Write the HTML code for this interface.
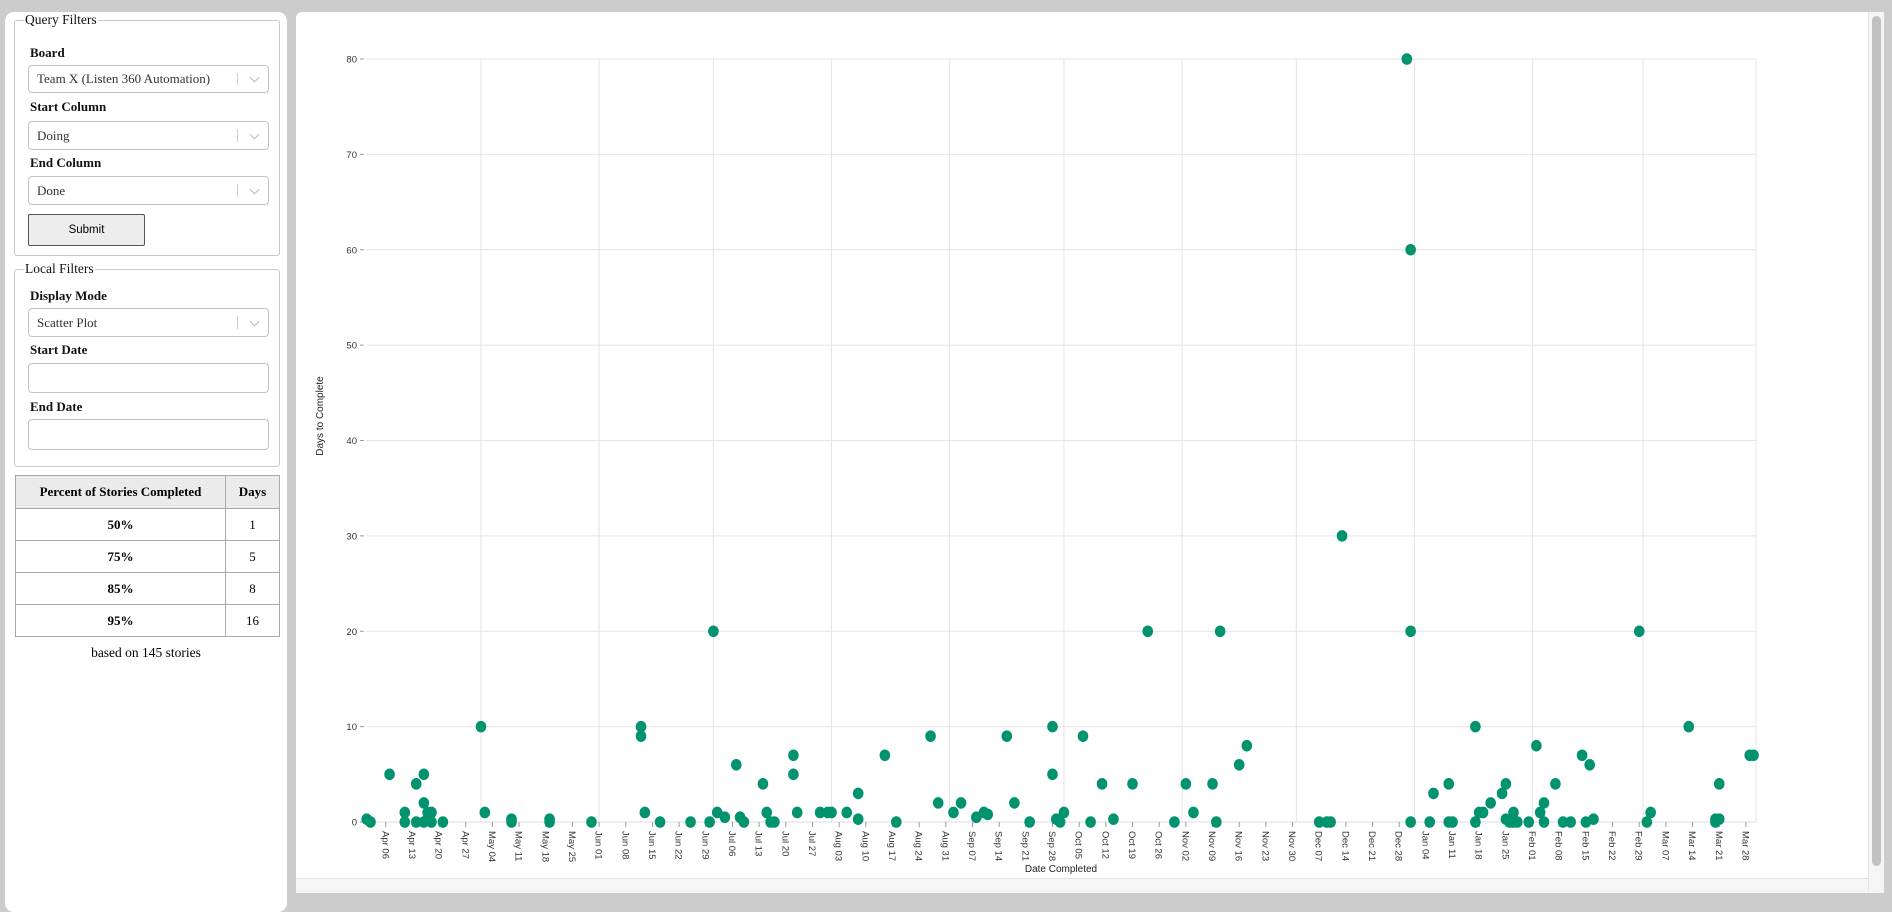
<!DOCTYPE html>
<html><head><meta charset="utf-8"><style>
*{box-sizing:border-box}
body{margin:0;width:1892px;height:893px;background:#cccccc;overflow:hidden;position:relative;font-family:"Liberation Serif",serif}
.abs{position:absolute}
#left{left:5px;top:12px;width:282px;height:900px;background:#fff;border-radius:9px}
fieldset{position:absolute;border:1px solid #c8c8c8;border-radius:3px;margin:0;padding:0}
legend{font-size:13.5px;padding:0 1px;margin-left:9px;color:#111}
.lbl{position:absolute;font-weight:bold;font-size:13px;color:#111;line-height:18px}
.sel{position:absolute;border:1px solid #c4c4c4;border-radius:4px;background:#fff;font-size:13px;color:#333;padding-left:8px;display:flex;align-items:center}
.sel .sep{position:absolute;right:30px;top:7px;bottom:7px;width:1px;background:#ccc}
.sel .arr{position:absolute;right:10px;top:50%;width:7px;height:7px;border-right:1px solid #bbb;border-bottom:1px solid #bbb;transform:translateY(-70%) rotate(45deg)}
.inp{position:absolute;border:1px solid #c4c4c4;border-radius:4px;background:#fff}
#submit{position:absolute;border:1px solid #555;border-radius:2px;background:#ededed;font-family:"Liberation Sans",sans-serif;font-size:11.5px;display:flex;align-items:center;justify-content:center}
table{position:absolute;border-collapse:collapse;font-size:13px}
td,th{border:1px solid #aaa;text-align:center;font-weight:bold;height:32px;padding:0}
th{background:#ebebeb;height:33px}
#right{left:296px;top:12px;width:1572px;height:881px;background:#fff;border-radius:6px 0 0 0}
</style></head><body>
<div id="left" class="abs">
 <fieldset style="left:9px;top:0px;width:266px;height:244px"><legend>Query Filters</legend></fieldset>
 <div class="lbl" style="left:25px;top:32px">Board</div>
 <div class="sel" style="left:23px;top:53px;width:241px;height:28px">Team X (Listen 360 Automation)<span class="sep"></span><span class="arr"></span></div>
 <div class="lbl" style="left:25px;top:86px">Start Column</div>
 <div class="sel" style="left:23px;top:109px;width:241px;height:29px">Doing<span class="sep"></span><span class="arr"></span></div>
 <div class="lbl" style="left:25px;top:142px">End Column</div>
 <div class="sel" style="left:23px;top:164px;width:241px;height:29px">Done<span class="sep"></span><span class="arr"></span></div>
 <div id="submit" style="left:23px;top:202px;width:117px;height:32px">Submit</div>
 <fieldset style="left:9px;top:249px;width:266px;height:206px"><legend>Local Filters</legend></fieldset>
 <div class="lbl" style="left:25px;top:275px">Display Mode</div>
 <div class="sel" style="left:23px;top:296px;width:241px;height:29px">Scatter Plot<span class="sep"></span><span class="arr"></span></div>
 <div class="lbl" style="left:25px;top:329px">Start Date</div>
 <div class="inp" style="left:23px;top:351px;width:241px;height:30px"></div>
 <div class="lbl" style="left:25px;top:386px">End Date</div>
 <div class="inp" style="left:23px;top:407px;width:241px;height:31px"></div>
 <table style="left:10px;top:463px;width:265px">
  <tr><th style="width:210px">Percent of Stories Completed</th><th>Days</th></tr>
  <tr><td>50%</td><td style="font-weight:normal">1</td></tr>
  <tr><td>75%</td><td style="font-weight:normal">5</td></tr>
  <tr><td>85%</td><td style="font-weight:normal">8</td></tr>
  <tr><td>95%</td><td style="font-weight:normal">16</td></tr>
 </table>
 <div class="abs" style="left:0;width:282px;top:633px;text-align:center;font-size:13.5px">based on 145 stories</div>
</div>
<div id="right" class="abs"></div>
<div class="abs" style="left:296px;top:878px;width:1572px;height:15px;background:#f5f5f5;border-top:1px solid #e0e0e0"></div>
<div class="abs" style="left:1868px;top:12px;width:16px;height:881px;background:#f5f5f5;border-left:1px solid #e5e5e5"><div style="position:absolute;left:3px;top:4px;width:9px;height:850px;border-radius:5px;background:#c1c1c1"></div></div>
<svg class="abs" style="left:0;top:0" width="1892" height="893" id="chart"></svg>
<script>
const dates=["2019-04-01","2019-04-02","2019-04-07","2019-04-11","2019-04-11","2019-04-14","2019-04-14","2019-04-16","2019-04-16","2019-04-16","2019-04-17","2019-04-17","2019-04-18","2019-04-18","2019-04-21","2019-05-01","2019-05-02","2019-05-09","2019-05-09","2019-05-19","2019-05-19","2019-05-30","2019-06-12","2019-06-12","2019-06-13","2019-06-17","2019-06-25","2019-06-30","2019-07-01","2019-07-02","2019-07-04","2019-07-07","2019-07-08","2019-07-09","2019-07-14","2019-07-15","2019-07-16","2019-07-17","2019-07-22","2019-07-22","2019-07-23","2019-07-29","2019-07-31","2019-08-01","2019-08-05","2019-08-08","2019-08-08","2019-08-15","2019-08-18","2019-08-27","2019-08-29","2019-09-02","2019-09-04","2019-09-08","2019-09-10","2019-09-11","2019-09-16","2019-09-18","2019-09-22","2019-09-28","2019-09-28","2019-09-29","2019-09-30","2019-10-01","2019-10-06","2019-10-08","2019-10-11","2019-10-14","2019-10-19","2019-10-23","2019-10-30","2019-11-02","2019-11-04","2019-11-09","2019-11-10","2019-11-11","2019-11-16","2019-11-18","2019-12-07","2019-12-09","2019-12-10","2019-12-13","2019-12-30","2019-12-31","2019-12-31","2019-12-31","2020-01-05","2020-01-06","2020-01-10","2020-01-10","2020-01-11","2020-01-17","2020-01-17","2020-01-18","2020-01-19","2020-01-21","2020-01-24","2020-01-25","2020-01-25","2020-01-26","2020-01-27","2020-01-27","2020-01-28","2020-01-31","2020-02-02","2020-02-03","2020-02-04","2020-02-04","2020-02-07","2020-02-09","2020-02-11","2020-02-14","2020-02-15","2020-02-16","2020-02-17","2020-02-29","2020-03-02","2020-03-03","2020-03-13","2020-03-20","2020-03-20","2020-03-21","2020-03-21","2020-03-29","2020-03-30"];
const days=[0.3,0,5,1,0,4,0,5,2,0,1,0.3,1,0,0,10,1,0.3,0,0,0.3,0,10,9,1,0,0,0,20,1,0.5,6,0.5,0,4,1,0,0,7,5,1,1,1,1,1,3,0.3,7,0,9,2,1,2,0.5,1,0.8,9,2,0,10,5,0.3,0,1,9,0,4,0.3,4,20,0,4,1,4,0,20,6,8,0,0,0,30,80,60,20,0,0,3,4,0,0,10,0,1,1,2,3,4,0.3,0,1,0,0,0,8,1,2,0,4,0,0,7,0,6,0.3,20,0,1,10,0,0.3,4,0.3,7,7];
const yTicks=[0,10,20,30,40,50,60,70,80];
const monthLines=["2019-05-01","2019-06-01","2019-07-01","2019-08-01","2019-09-01","2019-10-01","2019-11-01","2019-12-01","2020-01-01","2020-02-01","2020-03-01"];
const tickStart="2019-04-06", tickEnd="2020-03-28";
const MON=["Jan","Feb","Mar","Apr","May","Jun","Jul","Aug","Sep","Oct","Nov","Dec"];
const L=366,R=1756,T=59,B=822;
function ms(s){const p=s.split("-");return Date.UTC(+p[0],+p[1]-1,+p[2]);}
const ref=ms("2019-05-01");
function x(s){return 481+(ms(s)-ref)/86400000*3.81;}
function xt(t){return 481+(t-ref)/86400000*3.81;}
function y(v){return B-(v/80)*(B-T);}
const svg=document.getElementById("chart");const NS="http://www.w3.org/2000/svg";
function mk(t,a,p){const e=document.createElementNS(NS,t);for(const k in a)e.setAttribute(k,a[k]);(p||svg).appendChild(e);return e;}
yTicks.forEach(v=>{
 const g=mk("line",{x1:L,x2:R,y1:y(v),y2:y(v),stroke:"#e4e4e4","stroke-width":1});
 
 
 mk("line",{x1:L-6,x2:L-2,y1:y(v),y2:y(v),stroke:"#999"});
 const t=mk("text",{x:L-9,y:y(v)+3.5,"text-anchor":"end","font-size":"9.5","font-family":"Liberation Sans, sans-serif",fill:"#333"});t.textContent=v;
 
 
});
monthLines.forEach(m=>{
 const g=mk("line",{x1:x(m),x2:x(m),y1:T,y2:B,stroke:"#e4e4e4"});
 
 
});
mk("line",{x1:R,x2:R,y1:T,y2:B,stroke:"#e4e4e4"});
mk("line",{x1:L,x2:R,y1:B,y2:B,stroke:"#ddd"});
for(let t=ms(tickStart);t<=ms(tickEnd);t+=7*86400000){
 const d=new Date(t);const xx=xt(t);
 mk("line",{x1:xx,x2:xx,y1:B,y2:B+5,stroke:"#999"});
 const lab=MON[d.getUTCMonth()]+" "+String(d.getUTCDate()).padStart(2,"0");
 const tx=mk("text",{x:0,y:0,transform:`translate(${xx-3.5},${B+9}) rotate(90)`,"font-size":"9.5","font-family":"Liberation Sans, sans-serif",fill:"#333"});tx.textContent=lab;
 
 
}
const yt=mk("text",{transform:`translate(323,416) rotate(-90)`,"text-anchor":"middle","font-size":"10","font-family":"Liberation Sans, sans-serif",fill:"#222"});yt.textContent="Days to Complete";


const xtl=mk("text",{x:1061,y:872,"text-anchor":"middle","font-size":"10","font-family":"Liberation Sans, sans-serif",fill:"#222"});xtl.textContent="Date Completed";


dates.forEach((d,i)=>{
 const c=mk("ellipse",{cx:x(d),cy:y(days[i]),rx:5.3,ry:5.8,fill:"#00936e"});
 
 
});
</script>
</body></html>
